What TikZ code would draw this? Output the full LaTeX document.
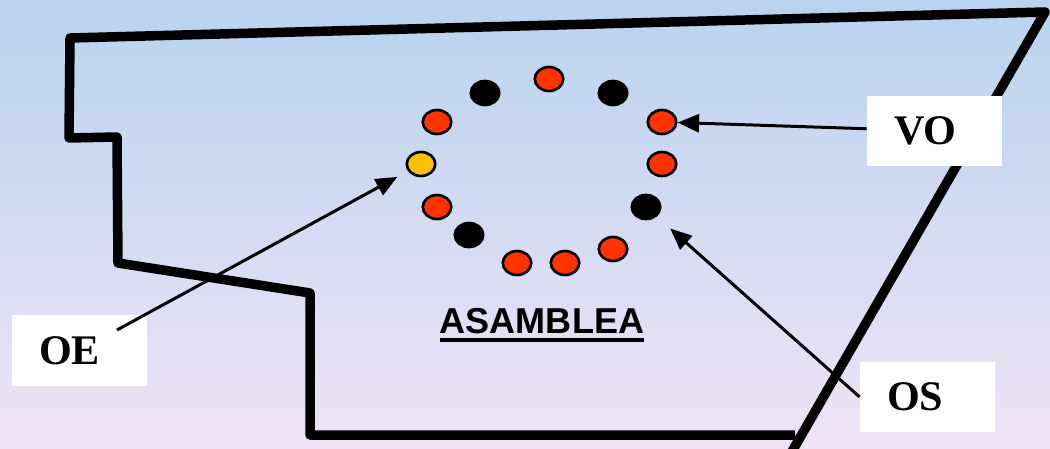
\documentclass[tikz,border=0pt]{standalone}
\usepackage{fontspec}
\setmainfont{Liberation Serif}
\setsansfont{Liberation Sans}
\usetikzlibrary{shapes.geometric,arrows.meta}

\definecolor{bgtop}{RGB}{184,211,239}
\definecolor{bgbot}{RGB}{240,227,245}
\definecolor{seatred}{RGB}{255,51,0}
\definecolor{seatyellow}{RGB}{255,192,0}

% heavy underline
\newsavebox{\ulbox}
\newcommand{\heavyul}[1]{\sbox{\ulbox}{#1}\rlap{\usebox{\ulbox}}\raisebox{-4.5pt}{\rule{\wd\ulbox}{1.9pt}}}

\tikzset{
  seat/.style={ellipse, draw=black, line width=1.5pt, minimum width=0.57cm, minimum height=0.48cm, inner sep=0pt},
  namebox/.style={fill=white, minimum height=1.42cm, text width=1.62cm, inner xsep=0.54cm, align=left,
    font=\bfseries\fontsize{24}{24}\selectfont},
  pointer/.style={-{Triangle[length=0.43cm,width=0.36cm]}, line width=1.7pt}
}

\begin{document}
\begin{tikzpicture}[x=0.02cm, y=-0.02cm]
    \useasboundingbox (0,0) rectangle (1050,449);

    % Background
    \shade[top color=bgtop, bottom color=bgbot] (0,0) rectangle (1050,449);

    % Outline of the room
    \draw[line width=0.19cm, line join=round]
        (795,435) -- (310,435) -- (310,293) -- (118,263) -- (117,137) -- (69,138)
        -- (70,38) -- (1045,12) -- (790,455);

    % Seats of the assembly
    \node[seat, fill=seatred] (S1) at (549,79) {};
    \node[seat, fill=black] (S2) at (613,93) {};
    \node[seat, fill=seatred] (S3) at (662,122) {};
    \node[seat, fill=seatred] (S4) at (662,164) {};
    \node[seat, fill=black] (S5) at (646,207) {};
    \node[seat, fill=seatred] (S6) at (613,249) {};
    \node[seat, fill=seatred] (S7) at (565,263) {};
    \node[seat, fill=seatred] (S8) at (517,263) {};
    \node[seat, fill=black] (S9) at (469,235) {};
    \node[seat, fill=seatred] (S10) at (437,207) {};
    \node[seat, fill=seatyellow] (S11) at (421,164) {};
    \node[seat, fill=seatred] (S12) at (437,122) {};
    \node[seat, fill=black] (S13) at (485,93) {};

    \node[font=\sffamily\bfseries\fontsize{20.5}{20.5}\selectfont] (Asamblea) at (542,325) {\heavyul{ASAMBLEA}};

    % Labels
    \node[namebox] (VO) at (934.5,131) {VO};
    \node[namebox] (OE) at (79.5,350.5) {OE};
    \node[namebox] (OS) at (927.5,397) {OS};

    % Pointers
    \coordinate (OEfoot) at (117,330);
    \draw[pointer] (VO) -- (S3);
    \draw[pointer, shorten >=0.36cm] (OS.west) -- (S5);
    \draw[pointer, shorten >=0.24cm] (OEfoot) -- (S11);

\end{tikzpicture}
\end{document}
